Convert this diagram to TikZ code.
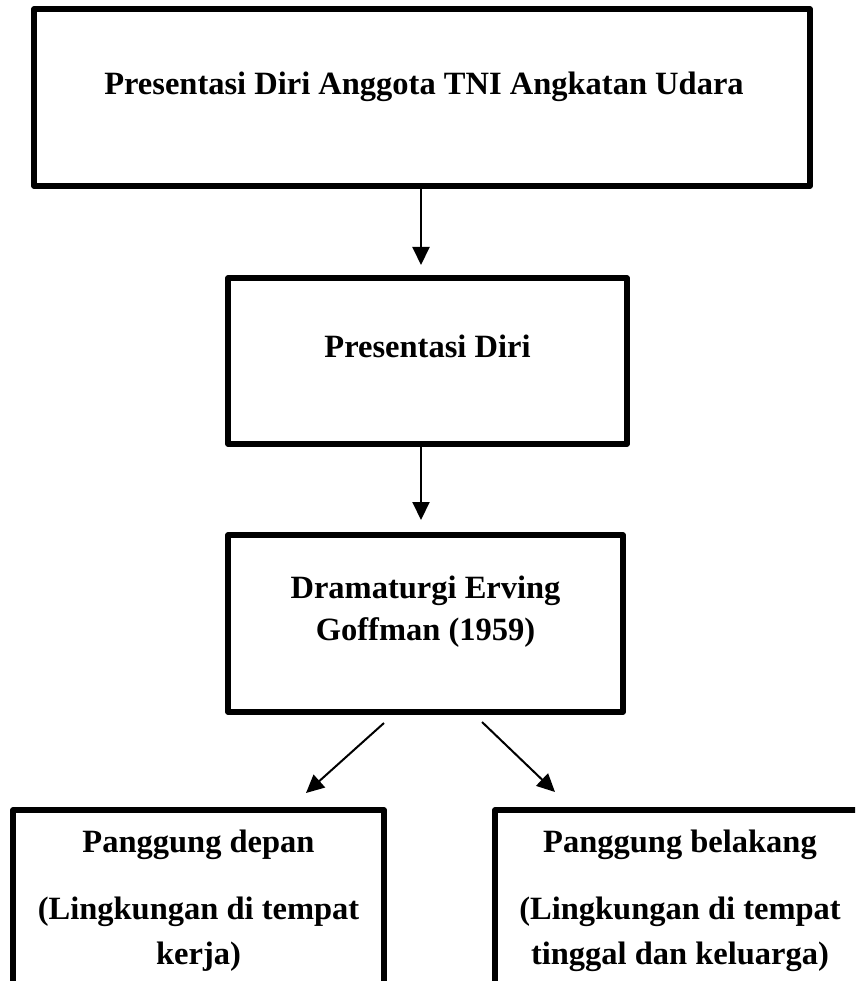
\documentclass[tikz,border=0pt]{standalone}
\usepackage{fontspec}
\setmainfont{Liberation Serif}
\usetikzlibrary{arrows.meta}
\tikzset{
  box/.style={draw=black, line width=5.5pt, line join=round, rectangle, inner sep=0pt},
  lbl/.style={font=\fontsize{32.5}{42}\selectfont\bfseries, inner sep=0pt, anchor=base},
  arr/.style={line width=2pt, -{Triangle[length=18pt,width=17pt]}}
}
\begin{document}
\begin{tikzpicture}[x=1pt,y=-1pt]
\useasboundingbox (0,0) rectangle (855,981);
\clip (0,0) rectangle (855,981);
% boxes
\node[box, minimum width=776pt, minimum height=177pt] (b1) at (422,97.5) {};
\node[box, minimum width=399pt, minimum height=166pt] (b2) at (427.5,361) {};
\node[box, minimum width=395pt, minimum height=177pt] (b3) at (425.5,623.5) {};
\node[box, minimum width=371pt, minimum height=190pt] (b4) at (198.5,905) {};
\node[box, minimum width=370pt, minimum height=190pt] (b5) at (680,905) {};
% labels
\node[lbl] (l1) at (424,95) {Presentasi Diri Anggota TNI Angkatan Udara};
\node[lbl] (l2) at (427.5,357) {Presentasi Diri};
\node[lbl] (l3a) at (425.5,598) {Dramaturgi Erving};
\node[lbl] (l3b) at (425.5,640) {Goffman (1959)};
\node[lbl] (l4a) at (198.5,852) {Panggung depan};
\node[lbl] (l4b) at (198.5,919) {(Lingkungan di tempat};
\node[lbl] (l4c) at (198.5,964) {kerja)};
\node[lbl] (l5a) at (680,852) {Panggung belakang};
\node[lbl] (l5b) at (680,919) {(Lingkungan di tempat};
\node[lbl] (l5c) at (680,964) {tinggal dan keluarga)};
% connector ends
\coordinate (t1) at (421,265);
\coordinate (t2) at (421,520);
\coordinate (s3l) at (384,723);
\coordinate (t3l) at (306,793);
\coordinate (s3r) at (482,722);
\coordinate (t3r) at (555,792);
% connectors
\draw[arr] (b1.south -| t1) -- (t1);
\draw[arr] (b2.south -| t2) -- (t2);
\draw[arr] (s3l) -- (t3l);
\draw[arr] (s3r) -- (t3r);
\end{tikzpicture}
\end{document}
